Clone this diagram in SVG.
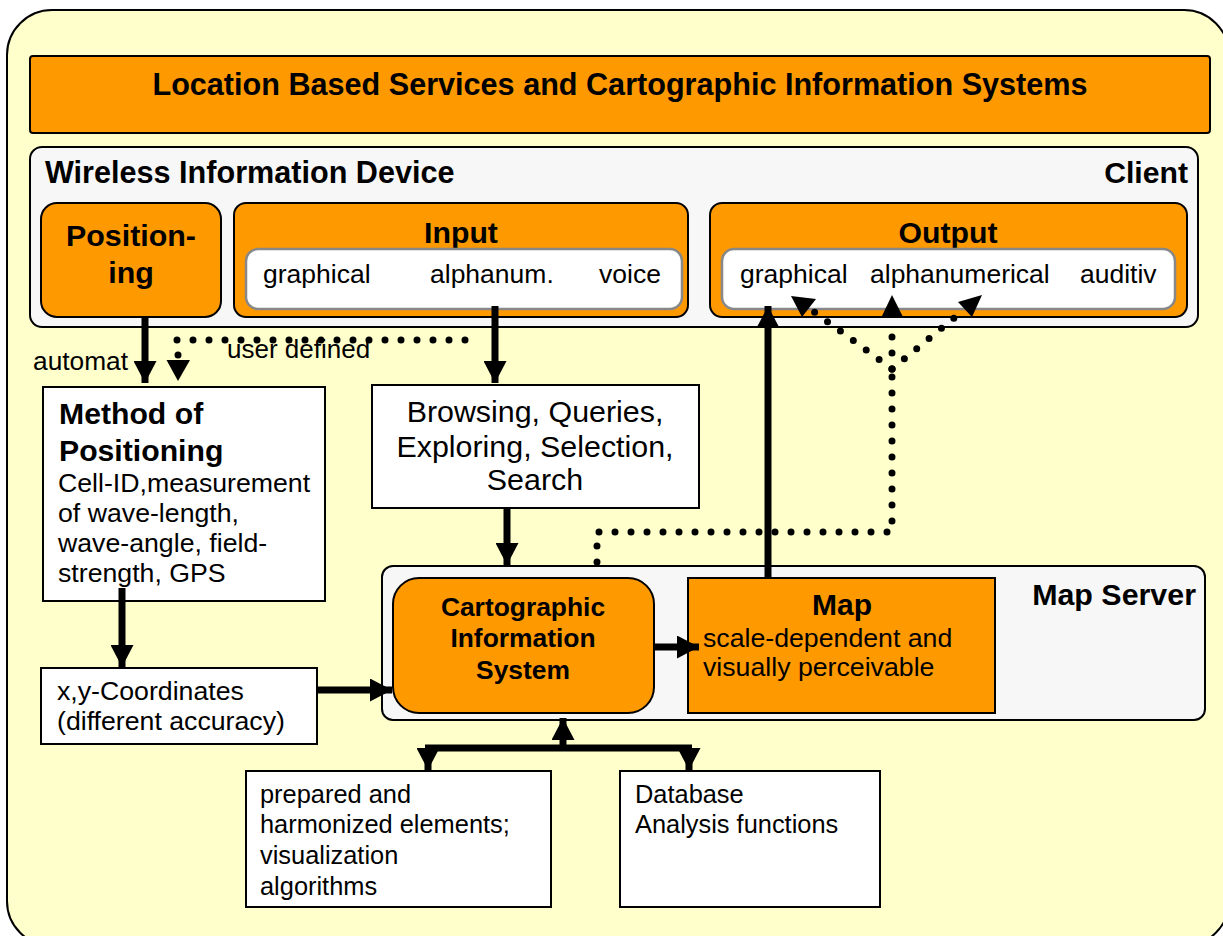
<svg xmlns="http://www.w3.org/2000/svg" width="1223" height="936" viewBox="0 0 1223 936">
<defs>
<style>
text{font-family:"Liberation Sans",Arial,sans-serif;fill:#000}
.b{font-weight:bold}
.orange{fill:#FF9900;stroke:#000;stroke-width:2}
.grey{fill:#F7F7F7;stroke:#000;stroke-width:2}
.white{fill:#fff;stroke:#000;stroke-width:2}
.inner{fill:#fff;stroke:#888;stroke-width:2.5}
.solid{fill:none;stroke:#000;stroke-width:7}
.dot{fill:none;stroke:#000;stroke-width:7;stroke-linecap:round;stroke-dasharray:0 16}
</style>
<marker id="ah" viewBox="0 0 22 23" refX="22" refY="11.5" markerWidth="22" markerHeight="23" markerUnits="userSpaceOnUse" orient="auto">
<path d="M0,0 L22,11.5 L0,23 Z" fill="#000"/>
</marker>
</defs>
<rect x="0" y="0" width="1223" height="936" fill="#fff"/>
<g id="frame">
<rect x="7" y="10" width="1222" height="936" rx="45" fill="#FFFFCC" stroke="#000" stroke-width="2"/>
</g>
<g id="title">
<rect x="30" y="56" width="1180" height="77" rx="3" class="orange"/>
<text x="620" y="95" text-anchor="middle" class="b" font-size="30.6">Location Based Services and Cartographic Information Systems</text>
</g>
<g id="client">
<rect x="30" y="147" width="1168" height="180" rx="12" class="grey"/>
<text x="45" y="183" class="b" font-size="30.6">Wireless Information Device</text>
<text x="1188" y="183" text-anchor="end" class="b" font-size="30.2">Client</text>
</g>
<g id="positioning">
<rect x="41" y="203" width="180" height="114" rx="16" class="orange"/>
<text x="131" y="246" text-anchor="middle" class="b" font-size="30.4">Position-</text>
<text x="131" y="283" text-anchor="middle" class="b" font-size="30.4">ing</text>
</g>
<g id="input">
<rect x="234" y="203" width="454" height="114" rx="12" class="orange"/>
<text x="461" y="243" text-anchor="middle" class="b" font-size="30.2">Input</text>
<rect x="246" y="249" width="436" height="60" rx="12" class="inner"/>
<text x="263" y="283" font-size="26.5">graphical</text>
<text x="430" y="283" font-size="26.5">alphanum.</text>
<text x="599" y="283" font-size="26.5">voice</text>
</g>
<g id="output">
<rect x="710" y="203" width="477" height="114" rx="12" class="orange"/>
<text x="948" y="243" text-anchor="middle" class="b" font-size="30.2">Output</text>
<rect x="722" y="249" width="453" height="60" rx="12" class="inner"/>
<text x="740" y="283" font-size="26.5">graphical</text>
<text x="870" y="283" font-size="26.5">alphanumerical</text>
<text x="1080" y="283" font-size="26.5">auditiv</text>
</g>
<g id="method">
<rect x="43" y="387" width="282" height="214" class="white"/>
<text x="59" y="424" class="b" font-size="30.2">Method of</text>
<text x="59" y="461" class="b" font-size="30.2">Positioning</text>
<text x="58" y="492" font-size="26.7">Cell-ID,measurement</text>
<text x="58" y="522" font-size="26.7">of wave-length,</text>
<text x="58" y="552" font-size="26.7">wave-angle, field-</text>
<text x="58" y="582" font-size="26.7">strength, GPS</text>
</g>
<g id="browsing">
<rect x="372" y="385" width="327" height="123" class="white"/>
<text x="535" y="422" text-anchor="middle" font-size="30.4">Browsing, Queries,</text>
<text x="535" y="457" text-anchor="middle" font-size="30.4">Exploring, Selection,</text>
<text x="535" y="490" text-anchor="middle" font-size="30.4">Search</text>
</g>
<g id="coordinates">
<rect x="41" y="668" width="276" height="76" class="white"/>
<text x="57" y="700" font-size="26.7">x,y-Coordinates</text>
<text x="57" y="730" font-size="26.7">(different accuracy)</text>
</g>
<g id="mapserver">
<rect x="382" y="566" width="823" height="154" rx="11" class="grey"/>
<text x="1196" y="605" text-anchor="end" class="b" font-size="30.4">Map Server</text>
</g>
<g id="cis">
<rect x="393" y="578" width="261" height="135" rx="26" class="orange"/>
<text x="523" y="616" text-anchor="middle" class="b" font-size="26.4">Cartographic</text>
<text x="523" y="647" text-anchor="middle" class="b" font-size="26.4">Information</text>
<text x="523" y="679" text-anchor="middle" class="b" font-size="26.4">System</text>
</g>
<g id="map">
<rect x="688" y="578" width="307" height="135" class="orange"/>
<text x="842" y="615" text-anchor="middle" class="b" font-size="30">Map</text>
<text x="703" y="647" font-size="26.7">scale-dependent and</text>
<text x="703" y="676" font-size="26.7">visually perceivable</text>
</g>
<g id="elements">
<rect x="246" y="771" width="305" height="136" class="white"/>
<text x="260" y="803" font-size="25.4">prepared and</text>
<text x="260" y="833" font-size="25.4">harmonized elements;</text>
<text x="260" y="864" font-size="25.4">visualization</text>
<text x="260" y="895" font-size="25.4">algorithms</text>
</g>
<g id="database">
<rect x="620" y="771" width="260" height="136" class="white"/>
<text x="635" y="803" font-size="25.4">Database</text>
<text x="635" y="833" font-size="25.4">Analysis functions</text>
</g>
<g id="connectors">
<path class="solid" d="M145,317 L145,383" marker-end="url(#ah)"/>
<path class="solid" d="M495,306 L495,383" marker-end="url(#ah)"/>
<path class="solid" d="M507,509 L507,565" marker-end="url(#ah)"/>
<path class="solid" d="M122,588 L122,667" marker-end="url(#ah)"/>
<path class="solid" d="M317,690 L392,690" marker-end="url(#ah)"/>
<path class="solid" d="M654,647 L699,647" marker-end="url(#ah)"/>
<path class="solid" d="M768,578 L768,306" marker-end="url(#ah)"/>
<path class="solid" d="M563,745 L563,718" marker-end="url(#ah)"/>
<path class="solid" d="M425,748 L692,748"/>
<path class="solid" d="M428,748 L428,770" marker-end="url(#ah)"/>
<path class="solid" d="M689,748 L689,770" marker-end="url(#ah)"/>
<path class="dot" d="M177,340 L478,340"/>
<circle cx="178" cy="355" r="3.5" fill="#000"/>
<polygon points="166.5,360 190,360 178,381" fill="#000"/>
<text x="33" y="370" font-size="26.3">automat</text>
<text x="227" y="358" font-size="26">user defined</text>
<path class="dot" d="M597,562 L597,532 L892,532 L892,369"/>
<path class="dot" d="M892,369 L892,321"/>
<polygon points="881.5,317 903,317 892,295" fill="#000"/>
<path class="dot" d="M892,369 L813,311"/>
<polygon points="791,296 816,299 802,317" fill="#000"/>
<path class="dot" d="M892,369 L965,309"/>
<polygon points="958,302 982,295 972,317" fill="#000"/>
</g>
</svg>
